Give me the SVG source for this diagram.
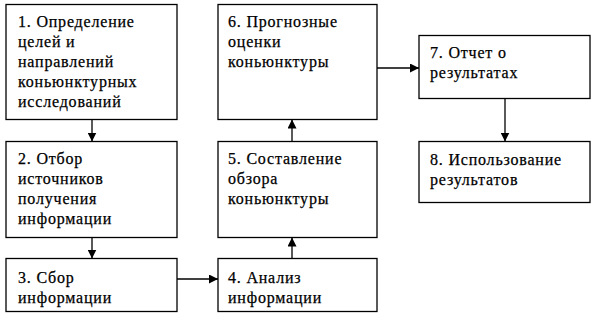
<svg xmlns="http://www.w3.org/2000/svg" width="599" height="318" viewBox="0 0 599 318">
<style>
.box{fill:#fff;stroke:#000;stroke-width:1.3}
.t{font-family:"Liberation Serif","Times New Roman",serif;font-size:16px;letter-spacing:0.8px;fill:#000;stroke:#000;stroke-width:0.25}
.c{stroke:#000;stroke-width:1.3;fill:none;marker-end:url(#ah)}
</style>
<defs>
<marker id="ah" viewBox="0 0 10 10" refX="10" refY="5" markerWidth="9" markerHeight="9" markerUnits="userSpaceOnUse" orient="auto">
<path d="M0,0 L10,5 L0,10 z" fill="#000"/>
</marker>
</defs>
<rect width="599" height="318" fill="#fff"/>
<g id="n1"><rect class="box" x="6" y="4.5" width="171" height="115"/>
<text class="t"><tspan x="18" y="27">1. Определение</tspan><tspan x="18" y="47">целей и</tspan><tspan x="18" y="67">направлений</tspan><tspan x="18" y="87">коньюнктурных</tspan><tspan x="18" y="107">исследований</tspan></text></g>
<g id="n2"><rect class="box" x="6" y="141.5" width="171" height="96"/>
<text class="t"><tspan x="18" y="164">2. Отбор</tspan><tspan x="18" y="184">источников</tspan><tspan x="18" y="204">получения</tspan><tspan x="18" y="224">информации</tspan></text></g>
<g id="n3"><rect class="box" x="6" y="258.5" width="171" height="53"/>
<text class="t"><tspan x="18" y="283">3. Сбор</tspan><tspan x="18" y="303">информации</tspan></text></g>
<g id="n4"><rect class="box" x="218" y="258.5" width="159" height="53"/>
<text class="t"><tspan x="228" y="283">4. Анализ</tspan><tspan x="228" y="303">информации</tspan></text></g>
<g id="n5"><rect class="box" x="218" y="141.5" width="159" height="96"/>
<text class="t"><tspan x="228" y="164">5. Составление</tspan><tspan x="228" y="184">обзора</tspan><tspan x="228" y="204">коньюнктуры</tspan></text></g>
<g id="n6"><rect class="box" x="218" y="4.5" width="159" height="115"/>
<text class="t"><tspan x="228" y="27">6. Прогнозные</tspan><tspan x="228" y="47">оценки</tspan><tspan x="228" y="67">коньюнктуры</tspan></text></g>
<g id="n7"><rect class="box" x="419" y="35.5" width="171" height="63"/>
<text class="t"><tspan x="430" y="58">7. Отчет о</tspan><tspan x="430" y="78">результатах</tspan></text></g>
<g id="n8"><rect class="box" x="419" y="141.5" width="171" height="61"/>
<text class="t"><tspan x="430" y="165">8. Использование</tspan><tspan x="430" y="185">результатов</tspan></text></g>
<g id="connectors">
<line class="c" x1="92" y1="119.5" x2="92" y2="141.5"/>
<line class="c" x1="92" y1="237.5" x2="92" y2="258.5"/>
<line class="c" x1="177" y1="279" x2="218" y2="279"/>
<line class="c" x1="292" y1="258.5" x2="292" y2="237.5"/>
<line class="c" x1="292" y1="141.5" x2="292" y2="119.5"/>
<line class="c" x1="377" y1="68" x2="419" y2="68"/>
<line class="c" x1="505" y1="98.5" x2="505" y2="141.5"/>
</g>
</svg>
